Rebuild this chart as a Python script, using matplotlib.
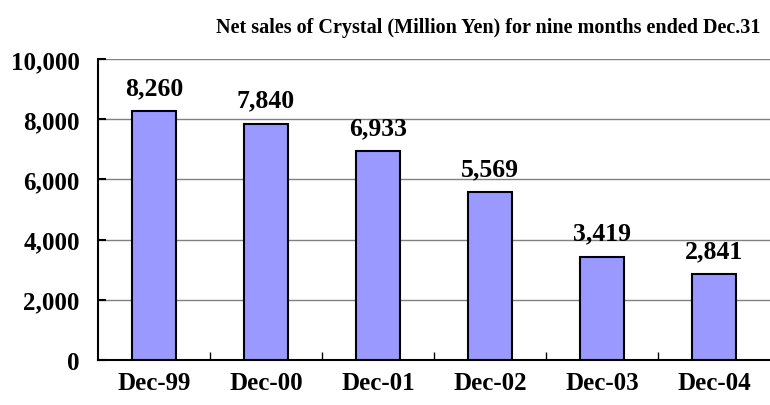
import matplotlib.pyplot as plt

months = ["Dec-99", "Dec-00", "Dec-01", "Dec-02", "Dec-03", "Dec-04"]
sales = [8260, 7840, 6933, 5569, 3419, 2841]
yticks = [0, 2000, 4000, 6000, 8000, 10000]

plt.rcParams["font.family"] = "Liberation Serif"
plt.rcParams["font.weight"] = "bold"

fig = plt.figure(figsize=(7.7, 4.06), dpi=100)
ax = fig.add_axes([0.127, 0.111, 0.873, 0.741])

x = list(range(len(months)))
ax.bar(x, sales, width=0.39, color="#9999FF", edgecolor="black", linewidth=1.5, zorder=3)

for xi, v in zip(x, sales):
    ax.annotate(f"{v:,}", (xi, v), xytext=(0, 9), textcoords="offset points",
                ha="center", va="bottom", fontsize=18.5, fontweight="bold")

ax.set_xlim(-0.5, len(months) - 0.5)
ax.set_ylim(0, 10000)
ax.set_yticks(yticks)
ax.set_yticklabels([f"{t:,}" for t in yticks], fontsize=18, fontweight="bold")
ax.set_xticks(x)
ax.set_xticklabels(months, fontsize=18, fontweight="bold")
ax.set_xticks([i + 0.5 for i in x[:-1]], minor=True)
ax.tick_params(axis="x", which="major", length=0, pad=8)
ax.tick_params(axis="x", which="minor", direction="in", length=6, width=1)
ax.tick_params(axis="y", direction="in", length=6, width=1.5, pad=13)
ax.yaxis.grid(True, color="#808080", linewidth=1, zorder=0)

for s in ["top", "right"]:
    ax.spines[s].set_visible(False)
ax.spines["left"].set_linewidth(1.5)
ax.spines["bottom"].set_linewidth(1.5)

fig.text(0.987, 0.93, "Net sales of Crystal (Million Yen) for nine months ended Dec.31",
         ha="right", va="center", fontsize=14.5, fontweight="bold")

fig.savefig("out.png", dpi=100)
